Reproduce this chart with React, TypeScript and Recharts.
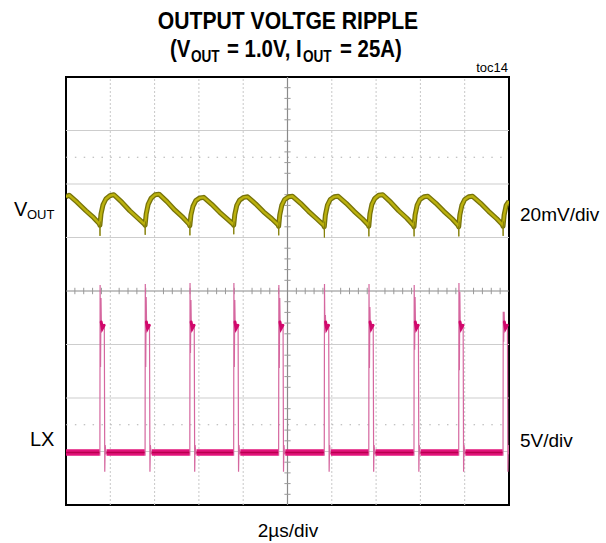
import { LineChart, Line, XAxis, YAxis, ReferenceLine, ReferenceArea } from "recharts";

// time axis in µs (2µs/div, 10 div), vertical axis in screen divisions (8 div)
const timeTicks = [2, 4, 6, 8, 12, 14, 16, 18];
const divTicks = [1, 2, 3, 5, 6, 7];
const markerDivs = [6.5, 1.5];

// VOUT ripple (t µs, divisions)
const voutPoints: number[][] = [
  [0, 5.76], [0.14, 5.79], [0.5, 5.66], [0.9, 5.5], [1.25, 5.37], [1.5, 5.26],
  [1.53, 5.23], [1.58, 5.44], [1.67, 5.61], [1.8, 5.72], [1.98, 5.78], [2.16, 5.8], [2.52, 5.66], [2.88, 5.5], [3.25, 5.36], [3.54, 5.25],
  [3.57, 5.23], [3.62, 5.44], [3.71, 5.62], [3.84, 5.73], [4.02, 5.8], [4.2, 5.81], [4.56, 5.67], [4.92, 5.51], [5.29, 5.37], [5.56, 5.25],
  [5.59, 5.22], [5.64, 5.42], [5.73, 5.58], [5.86, 5.69], [6.04, 5.74], [6.22, 5.75], [6.58, 5.62], [6.94, 5.47], [7.3, 5.34], [7.54, 5.25],
  [7.57, 5.23], [7.62, 5.43], [7.71, 5.6], [7.84, 5.7], [8.02, 5.75], [8.2, 5.76], [8.56, 5.63], [8.92, 5.48], [9.29, 5.35], [9.57, 5.24],
  [9.6, 5.21], [9.65, 5.42], [9.74, 5.6], [9.87, 5.71], [10.05, 5.76], [10.23, 5.77], [10.59, 5.64], [10.95, 5.49], [11.32, 5.35], [11.63, 5.23],
  [11.66, 5.2], [11.71, 5.42], [11.8, 5.6], [11.93, 5.71], [12.11, 5.76], [12.29, 5.77], [12.65, 5.64], [13.01, 5.49], [13.38, 5.35], [13.64, 5.24],
  [13.67, 5.21], [13.72, 5.44], [13.81, 5.62], [13.94, 5.73], [14.12, 5.79], [14.3, 5.8], [14.66, 5.66], [15.02, 5.5], [15.39, 5.36], [15.68, 5.23],
  [15.71, 5.2], [15.76, 5.42], [15.85, 5.6], [15.98, 5.71], [16.16, 5.76], [16.34, 5.77], [16.7, 5.64], [17.06, 5.49], [17.43, 5.35], [17.7, 5.23],
  [17.73, 5.2], [17.78, 5.42], [17.87, 5.6], [18.0, 5.71], [18.18, 5.76], [18.36, 5.77], [18.72, 5.64], [19.08, 5.49], [19.45, 5.35], [19.7, 5.24],
  [19.73, 5.21], [19.78, 5.42], [19.87, 5.6], [20.0, 5.68],
];

// switching spikes on VOUT
const voutSpikes: number[][][] = [
  [[1.52, 5.24], [1.535, 5.03], [1.55, 5.3]],
  [[3.56, 5.24], [3.575, 5.05], [3.59, 5.3]],
  [[5.58, 5.23], [5.595, 5.04], [5.61, 5.3]],
  [[7.56, 5.24], [7.575, 5.06], [7.59, 5.3]],
  [[9.59, 5.22], [9.605, 5.04], [9.62, 5.3]],
  [[11.65, 5.21], [11.665, 5.0], [11.68, 5.3]],
  [[13.66, 5.22], [13.675, 5.02], [13.69, 5.3]],
  [[15.7, 5.21], [15.715, 5.02], [15.73, 5.3]],
  [[17.72, 5.21], [17.735, 5.02], [17.75, 5.3]],
  [[19.72, 5.22], [19.735, 5.03], [19.75, 5.3]],
];

// LX low level between pulses
const lxLow: number[][][] = [
  [[0, 0.98], [1.51, 0.98]],
  [[1.83, 0.98], [3.55, 0.98]],
  [[3.87, 0.98], [5.57, 0.98]],
  [[5.89, 0.98], [7.55, 0.98]],
  [[7.87, 0.98], [9.58, 0.98]],
  [[9.9, 0.98], [11.64, 0.98]],
  [[11.96, 0.98], [13.65, 0.98]],
  [[13.97, 0.98], [15.69, 0.98]],
  [[16.01, 0.98], [17.71, 0.98]],
  [[18.03, 0.98], [19.71, 0.98]],
];

// LX switching pulses
const lxPulses: number[][][] = [
  [[1.51, 0.98], [1.53, 0.92], [1.54, 4.11], [1.56, 2.58], [1.58, 3.87], [1.6, 3.3], [1.63, 3.38], [1.67, 3.33], [1.73, 3.35], [1.75, 0.62], [1.77, 1.12], [1.8, 0.95], [1.83, 0.98]],
  [[3.55, 0.98], [3.57, 0.92], [3.58, 4.13], [3.6, 2.58], [3.62, 3.89], [3.64, 3.3], [3.67, 3.38], [3.71, 3.33], [3.77, 3.35], [3.79, 0.62], [3.81, 1.12], [3.84, 0.95], [3.87, 0.98]],
  [[5.57, 0.98], [5.59, 0.92], [5.6, 4.15], [5.62, 2.84], [5.64, 3.83], [5.66, 3.3], [5.69, 3.38], [5.73, 3.33], [5.79, 3.35], [5.81, 0.62], [5.83, 1.12], [5.86, 0.95], [5.89, 0.98]],
  [[7.55, 0.98], [7.57, 0.92], [7.58, 4.15], [7.6, 2.58], [7.62, 3.83], [7.64, 3.3], [7.67, 3.38], [7.71, 3.33], [7.77, 3.35], [7.79, 0.62], [7.81, 1.12], [7.84, 0.95], [7.87, 0.98]],
  [[9.58, 0.98], [9.6, 0.92], [9.61, 4.11], [9.63, 2.56], [9.65, 3.87], [9.67, 3.3], [9.7, 3.38], [9.74, 3.33], [9.8, 3.35], [9.82, 0.62], [9.84, 1.12], [9.87, 0.95], [9.9, 0.98]],
  [[11.64, 0.98], [11.66, 0.92], [11.67, 4.13], [11.69, 3.21], [11.71, 3.55], [11.73, 3.3], [11.76, 3.38], [11.8, 3.33], [11.86, 3.35], [11.88, 0.62], [11.9, 1.12], [11.93, 0.95], [11.96, 0.98]],
  [[13.65, 0.98], [13.67, 0.92], [13.68, 4.13], [13.7, 2.56], [13.72, 3.7], [13.74, 3.3], [13.77, 3.38], [13.81, 3.33], [13.87, 3.35], [13.89, 0.62], [13.91, 1.12], [13.94, 0.95], [13.97, 0.98]],
  [[15.69, 0.98], [15.71, 0.92], [15.72, 4.11], [15.74, 2.9], [15.76, 3.89], [15.78, 3.3], [15.81, 3.38], [15.85, 3.33], [15.91, 3.35], [15.93, 0.62], [15.95, 1.12], [15.98, 0.95], [16.01, 0.98]],
  [[17.71, 0.98], [17.73, 0.92], [17.74, 4.15], [17.76, 2.52], [17.78, 3.98], [17.8, 3.3], [17.83, 3.38], [17.87, 3.33], [17.93, 3.35], [17.95, 0.62], [17.97, 1.12], [18.0, 0.95], [18.03, 0.98]],
  [[19.71, 0.98], [19.73, 0.92], [19.74, 3.61], [19.76, 3.05], [19.78, 3.61], [19.8, 3.3], [19.83, 3.38], [19.87, 3.33], [19.93, 3.35], [19.95, 0.62], [19.97, 1.12], [20.0, 0.95]],
];

// the bright blob on top of each pulse
const lxTops: number[][][] = [
  [[1.59, 3.42], [1.64, 3.3], [1.72, 3.36]],
  [[3.63, 3.42], [3.68, 3.3], [3.76, 3.36]],
  [[5.65, 3.42], [5.7, 3.3], [5.78, 3.36]],
  [[7.63, 3.42], [7.68, 3.3], [7.76, 3.36]],
  [[9.66, 3.42], [9.71, 3.3], [9.79, 3.36]],
  [[11.72, 3.42], [11.77, 3.3], [11.85, 3.36]],
  [[13.73, 3.42], [13.78, 3.3], [13.86, 3.36]],
  [[15.77, 3.42], [15.82, 3.3], [15.9, 3.36]],
  [[17.79, 3.42], [17.84, 3.3], [17.92, 3.36]],
  [[19.79, 3.42], [19.84, 3.3], [19.92, 3.36]],
];

type Row = { t: number; v: number | null };

const rows = (pts: number[][]): Row[] => pts.map(([t, v]) => ({ t, v }));
const joined = (parts: number[][][]): Row[] => {
  const out: Row[] = [];
  parts.forEach((p) => {
    out.push(...rows(p));
    out.push({ t: p[p.length - 1][0] + 0.001, v: null });
  });
  return out;
};

const voutData = rows(voutPoints);
const spikeData = joined(voutSpikes);
const lowData = joined(lxLow);
const pulseData = joined(lxPulses);
const topData = joined(lxTops);

// small marks on the centre cross, every 1/5 division
const xSub: number[] = [];
for (let i = 1; i < 50; i++) if (i % 5 !== 0) xSub.push(i * 0.4);
const ySub: number[] = [];
for (let i = 1; i < 40; i++) if (i % 5 !== 0) ySub.push(i * 0.2);

const sans = "'Liberation Sans', Arial, sans-serif";

// condensed bold text (the original uses a narrow face)
function Cond({ x, y, size, sx = 0.85, anchor, children }: { x: number; y: number; size: number; sx?: number; anchor?: string; children: string }) {
  return (
    <g transform={`translate(${x} ${y}) scale(${sx} 1)`}>
      <text x={0} y={0} fontFamily={sans} fontWeight="bold" fontSize={size} textAnchor={anchor}>
        {children}
      </text>
    </g>
  );
}

export default function App() {
  const common = { dataKey: "v", dot: false, isAnimationActive: false, connectNulls: false, type: "linear" as const, legendType: "none" as const };
  return (
    <div style={{ position: "absolute", left: 0, top: 0, width: 606, height: 543, background: "#fff" }}>
      <LineChart width={606} height={543} margin={{ top: 77, right: 97, bottom: 38, left: 66 }}>
        <XAxis dataKey="t" type="number" domain={[0, 20]} hide allowDataOverflow />
        <YAxis type="number" domain={[0, 8]} hide allowDataOverflow />
        {timeTicks.map((t) => (
          <ReferenceLine key={"vx" + t} x={t} stroke="#c8c8c8" strokeDasharray="2 2" strokeWidth={1} />
        ))}
        {divTicks.map((d) => (
          <ReferenceLine key={"hy" + d} y={d} stroke="#cdcdcd" strokeWidth={1} />
        ))}
        {markerDivs.map((d) => (
          <ReferenceLine key={"mk" + d} y={d} stroke="#b0b0b0" strokeDasharray="1.5 7.36" strokeWidth={1.2} />
        ))}
        <ReferenceLine x={10} stroke="#8a8a8a" strokeWidth={1.2} />
        <ReferenceLine y={4} stroke="#8a8a8a" strokeWidth={1.2} />
        {xSub.map((t) => (
          <ReferenceLine key={"sx" + t} segment={[{ x: t, y: 3.94 }, { x: t, y: 4.06 }]} stroke="#9a9a9a" strokeWidth={1} />
        ))}
        {ySub.map((d) => (
          <ReferenceLine key={"sy" + d} segment={[{ x: 9.86, y: d }, { x: 10.14, y: d }]} stroke="#9a9a9a" strokeWidth={1} />
        ))}

        <Line {...common} data={voutData} stroke="#77730a" strokeWidth={5} strokeLinejoin="round" />
        <Line {...common} data={voutData} stroke="#bbb10d" strokeWidth={2.4} strokeLinejoin="round" />
        <Line {...common} data={spikeData} stroke="#858008" strokeWidth={1} />

        <Line {...common} data={pulseData} stroke="#d5679f" strokeWidth={1.2} />
        <Line {...common} data={topData} stroke="#d1086c" strokeWidth={3} strokeLinecap="round" />
        <Line {...common} data={lowData} stroke="#e2137a" strokeWidth={6.5} />
        <Line {...common} data={lowData} stroke="#b8004f" strokeWidth={1.5} />

        <ReferenceArea x1={0} x2={20} y1={0} y2={8} fill="none" stroke="#000" strokeWidth={2} ifOverflow="visible" />
      </LineChart>
      <svg width={606} height={543} style={{ position: "absolute", left: 0, top: 0, pointerEvents: "none" }}>
        <Cond x={288} y={29} size={24} sx={0.881} anchor="middle">OUTPUT VOLTGE RIPPLE</Cond>
        <Cond x={170} y={57} size={24}>(V</Cond>
        <Cond x={191} y={62} size={16}>OUT</Cond>
        <Cond x={227} y={57} size={24}>= 1.0V, I</Cond>
        <Cond x={303} y={62} size={16}>OUT</Cond>
        <Cond x={340} y={57} size={24}>= 25A)</Cond>
        <text x={508} y={72} textAnchor="end" fontFamily={sans} fontSize={13}>toc14</text>
        <text x={14} y={216} fontFamily={sans} fontSize={20}>V</text>
        <text x={27} y={219} fontFamily={sans} fontSize={13}>OUT</text>
        <text x={30} y={446} fontFamily={sans} fontSize={20}>LX</text>
        <text x={520} y={221} fontFamily={sans} fontSize={19}>20mV/div</text>
        <text x={520} y={447} fontFamily={sans} fontSize={19}>5V/div</text>
        <text x={288} y={537} textAnchor="middle" fontFamily={sans} fontSize={19}>2µs/div</text>
      </svg>
    </div>
  );
}
